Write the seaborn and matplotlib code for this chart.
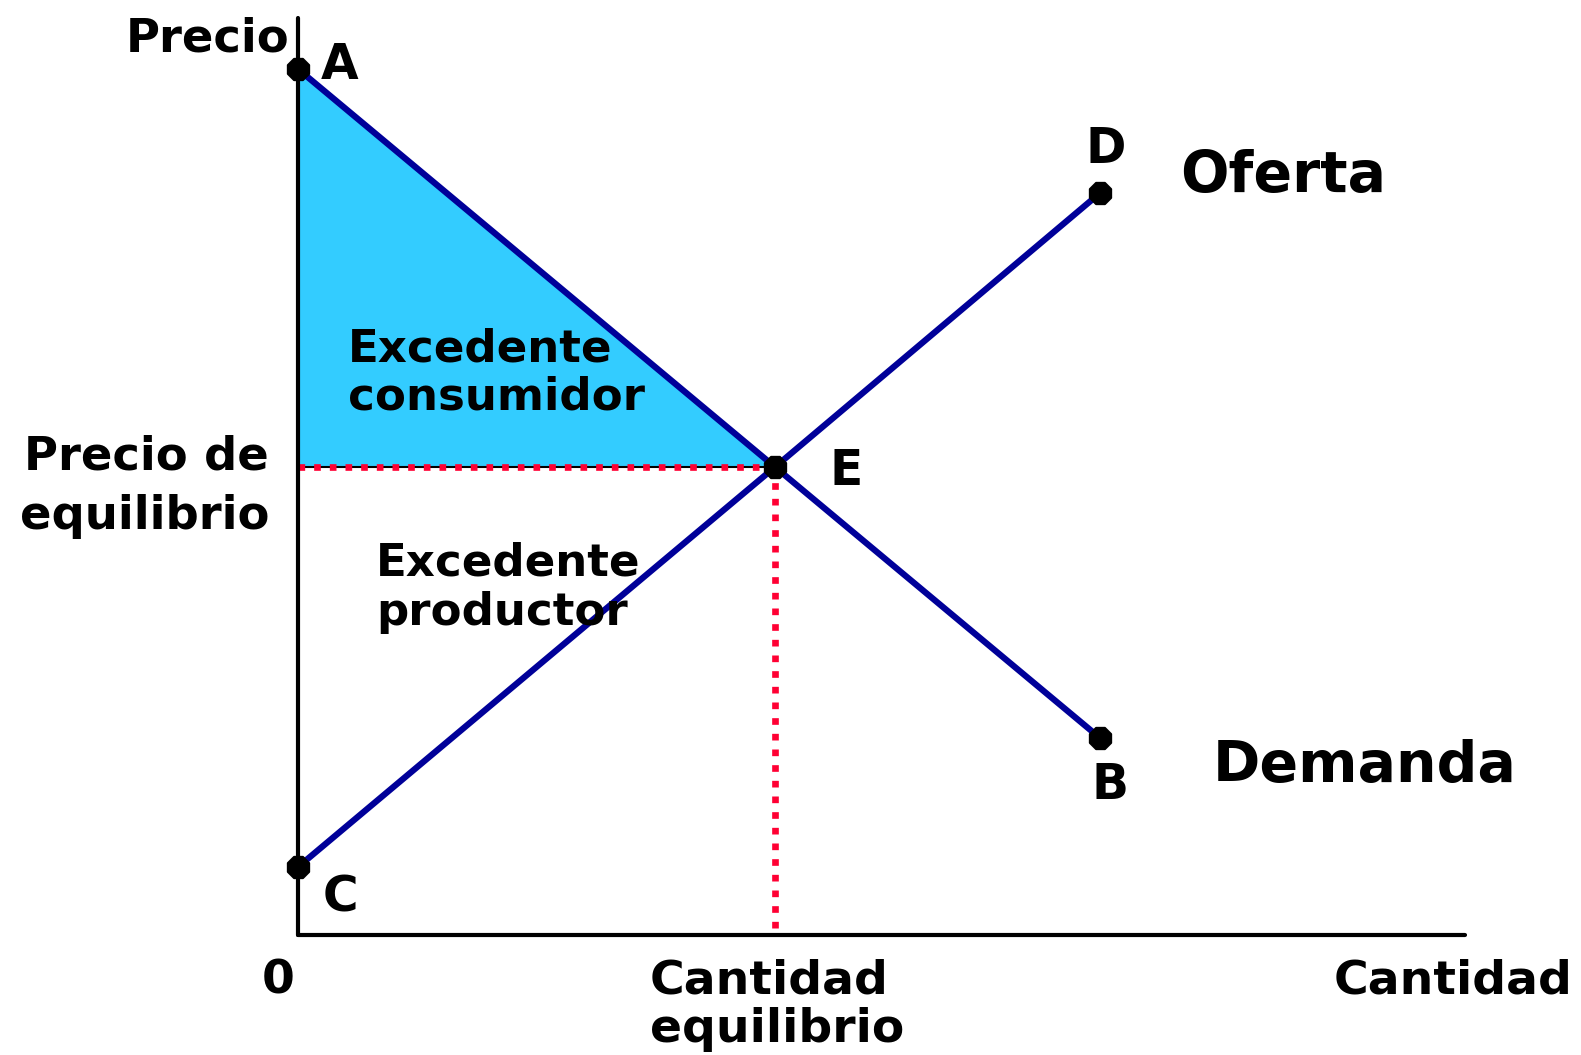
import matplotlib
matplotlib.use("Agg")
import matplotlib.pyplot as plt
import numpy as np
import pandas as pd
import seaborn as sns

# market data (quantity, price), 1 unit = 100 px in the figure
demand_q = [0.0, 4.77, 8.02]
demand_p = [8.66, 4.68, 1.97]
supply_q = [0.0, 4.77, 8.02]
supply_p = [0.68, 4.68, 7.42]
point_names = ["A", "E", "B", "C", "D"]
point_q = [0.0, 4.77, 8.02, 0.0, 8.02]
point_p = [8.66, 4.68, 1.97, 0.68, 7.42]
q_eq = 4.77
p_eq = 4.68

NAVY = "#000099"
CYAN = "#33ccff"
RED = "#ff0033"

sns.set_theme(style="white")
plt.rcParams["font.family"] = ["DejaVu Sans"]

fig = plt.figure(figsize=(15.81, 10.55), dpi=100)
ax = fig.add_axes([298 / 1581, 120 / 1055, 1167 / 1581, 917 / 1055])
ax.set_xlim(0, 11.67)
ax.set_ylim(0, 9.17)
ax.set_xticks([])
ax.set_yticks([])
for side in ["top", "right"]:
    ax.spines[side].set_visible(False)
for side in ["left", "bottom"]:
    ax.spines[side].set_linewidth(3.0)
    ax.spines[side].set_color("black")
    ax.spines[side].set_capstyle("round")
ax.set_facecolor("white")

# consumer surplus triangle
ax.fill([0, q_eq, 0], [demand_p[0], p_eq, p_eq], facecolor=CYAN,
        edgecolor="black", linewidth=1.5, zorder=1)

# equilibrium guides (square red dots)
dots = dict(color=RED, lw=4.8, ls=(0, (1, 1.35)), dash_capstyle="butt",
            zorder=2, clip_on=False)
ax.plot([0, q_eq], [p_eq, p_eq], **dots)
ax.plot([q_eq, q_eq], [p_eq, 0], **dots)

curves = pd.DataFrame({
    "q": demand_q + supply_q,
    "p": demand_p + supply_p,
    "curve": ["Demanda"] * 3 + ["Oferta"] * 3,
})
sns.lineplot(data=curves, x="q", y="p", units="curve", estimator=None,
             sort=False, color=NAVY, lw=4.5, ax=ax, zorder=3)

pts = pd.DataFrame({"q": point_q, "p": point_p, "name": point_names})
sns.scatterplot(data=pts, x="q", y="p", marker="8", s=280, color="black",
                edgecolor="black", ax=ax, zorder=5, clip_on=False)
ax.set_xlabel("")
ax.set_ylabel("")

labels = [
    ("Precio", -0.09, 8.83, "right", 33.5),
    ("A", 0.23, 8.56, "left", 35),
    ("D", 7.87, 7.72, "left", 35),
    ("Oferta", 8.82, 7.43, "left", 41),
    ("Excedente", 0.50, 5.74, "left", 32.5),
    ("consumidor", 0.50, 5.25, "left", 32.5),
    ("Precio de", -0.29, 4.66, "right", 33.5),
    ("equilibrio", -0.29, 4.06, "right", 33.5),
    ("E", 5.31, 4.50, "left", 35),
    ("Excedente", 0.78, 3.59, "left", 32.5),
    ("productor", 0.78, 3.10, "left", 32.5),
    ("Demanda", 9.15, 1.53, "left", 41),
    ("B", 7.93, 1.36, "left", 35),
    ("C", 0.25, 0.23, "left", 35),
    ("0", -0.36, -0.58, "left", 34),
    ("Cantidad", 3.52, -0.58, "left", 34),
    ("equilibrio", 3.52, -1.07, "left", 34),
    ("Cantidad", 12.75, -0.58, "right", 34),
]
for txt, x, y, ha, size in labels:
    ax.text(x, y, txt, ha=ha, va="baseline", fontsize=size,
            fontweight="bold", color="black", clip_on=False, zorder=6)

fig.savefig("out.png", dpi=100, facecolor="white")
